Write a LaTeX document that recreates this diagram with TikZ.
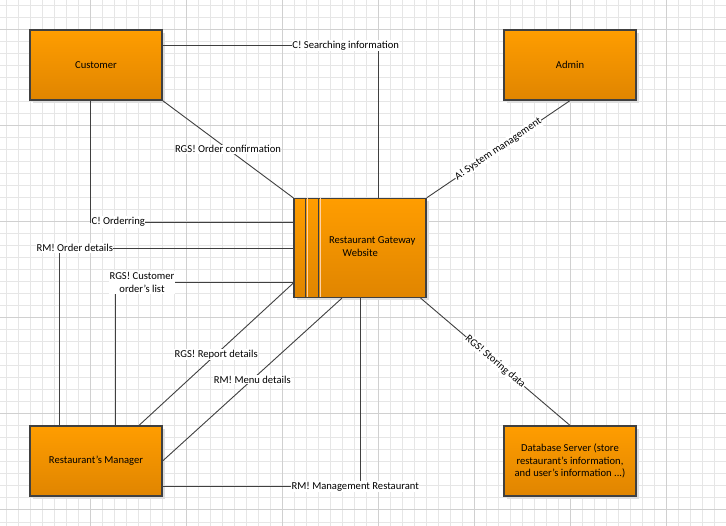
\documentclass[tikz,border=0pt]{standalone}
\usepackage{fontspec}
\setmainfont{Carlito}
\usetikzlibrary{calc,shadows}
\definecolor{gridminor}{HTML}{E6E6E6}
\definecolor{gridmajor}{HTML}{D0D0D0}
\definecolor{edge}{HTML}{404040}
\definecolor{boxtop}{HTML}{FF9D00}
\definecolor{boxbottom}{HTML}{E08500}
\begin{document}
\begin{tikzpicture}[x=1pt,y=-1pt,
  every node/.style={font=\fontsize{10.6}{12.8}\selectfont, text=black},
  entity/.style={draw=edge, line width=1.2pt, top color=boxtop, bottom color=boxbottom,
    minimum width=132pt, minimum height=70pt, inner sep=0pt, align=center,
    general shadow={fill=black!13, shadow xshift=3pt, shadow yshift=-3pt}},
  flow/.style={draw=edge, line width=0.9pt},
  lbl/.style={fill=white, inner xsep=0.5pt, inner ysep=1pt, align=center},
]
% page and grid
\useasboundingbox (0,0) rectangle (726,526);
\fill[white] (0,0) rectangle (726,526);
\foreach \k in {6,18,...,714} \draw[gridminor, line width=1pt] (\k,0) -- (\k,526);
\foreach \k in {6,18,...,522} \draw[gridminor, line width=1pt] (0,\k) -- (726,\k);
\foreach \k in {90,186,...,666} \draw[gridmajor, line width=1pt] (\k,0) -- (\k,526);
\foreach \k in {30,126,...,510} \draw[gridmajor, line width=1pt] (0,\k) -- (726,\k);

% entities
\node[entity] (cust) at (96,65) {Customer};
\node[entity] (admin) at (570,65) {Admin};
\node[entity] (mgr) at (96,461) {Restaurant’s Manager};
\node[entity] (db) at (570,461) {Database Server (store\\restaurant’s information,\\and user’s information ...)};

% central process with its side bars
\node[entity, minimum height=99pt] (rgw) at (360,248) {};
\draw[orange!35!white, line width=0.8pt] ($(rgw.north west)+(14.3,0.6)$) -- ($(rgw.south west)+(14.3,-0.6)$);
\draw[orange!35!white, line width=0.8pt] ($(rgw.north west)+(26.7,0.6)$) -- ($(rgw.south west)+(26.7,-0.6)$);
\draw[edge, line width=1.2pt] ($(rgw.north west)+(12.3,0)$) -- ($(rgw.south west)+(12.3,0)$);
\draw[edge, line width=1.2pt] ($(rgw.north west)+(25,0)$) -- ($(rgw.south west)+(25,0)$);
\node[align=left, inner sep=0pt] (rgwtext) at (372.2,247) {Restaurant Gateway\\\hspace*{13.7pt}Website};

% data flows
\draw[flow] ($(cust.north east)+(0,16.3)$) -| node[lbl,pos=0.425] {C! Searching information} ($(rgw.north)+(18,0)$);
\draw[flow] (cust.south east) -- node[lbl] {RGS! Order confirmation} (rgw.north west);
\draw[flow] (admin.south) -- node[lbl,sloped] {A! System management} (rgw.north east);
\draw[flow] ($(cust.south)+(-5.3,0)$) |- node[lbl,pos=0.568] {C! Orderring} ($(rgw.west)+(0,-26)$);
\draw[flow] ($(mgr.north)+(-36.7,0)$) |- node[lbl,pos=0.533] {RM! Order details} (rgw.west);
\draw[flow] ($(mgr.north)+(19.3,0)$) |- node[lbl,pos=0.575] {RGS! Customer\\order’s list} ($(rgw.west)+(0,34.5)$);
\draw[flow] ($(mgr.north)+(43,0)$) -- node[lbl] {RGS! Report details} ($(rgw.west)+(0,35)$);
\draw[flow] (mgr.east) -- node[lbl] {RM! Menu details} ($(rgw.south)+(-18,0)$);
\draw[flow] ($(mgr.south east)+(0,-10)$) -| node[lbl,pos=0.488] {RM! Management Restaurant} (rgw.south);
\draw[flow] ($(rgw.south east)+(-6,0)$) -- node[lbl,sloped] {RGS! Storing data} (db.north);
\end{tikzpicture}
\end{document}
